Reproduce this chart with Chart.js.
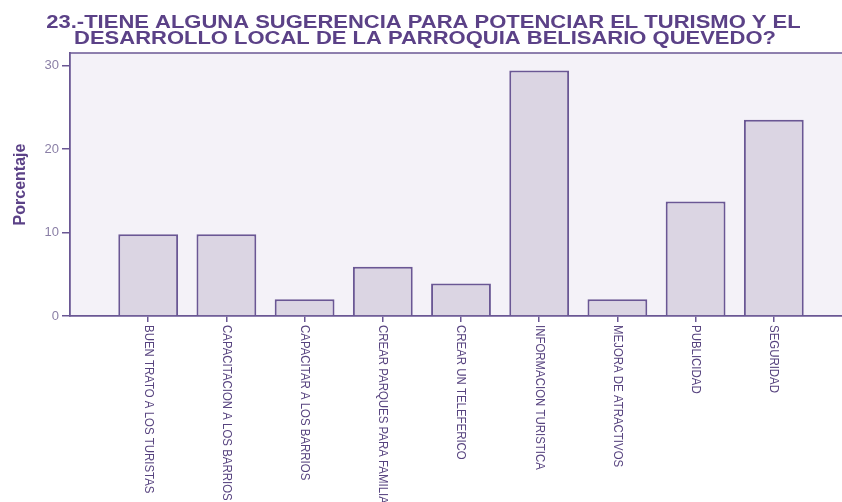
<!DOCTYPE html>
<html><head><meta charset="utf-8">
<script src="https://cdn.jsdelivr.net/npm/chart.js@4"></script>
<style>html,body{margin:0;padding:0;background:#fff;overflow:hidden}#wrap{width:860px;height:502px;position:relative}</style>
</head><body><div id="wrap"><canvas id="c" width="860" height="502"></canvas></div>
<script>
const titleLines = [
  '23.-TIENE ALGUNA SUGERENCIA PARA POTENCIAR EL TURISMO Y EL',
  'DESARROLLO LOCAL DE LA PARROQUIA BELISARIO QUEVEDO?'
];
const categories = [
  'BUEN TRATO A LOS TURISTAS',
  'CAPACITACION A LOS BARRIOS',
  'CAPACITAR A LOS BARRIOS',
  'CREAR PARQUES PARA FAMILIAS',
  'CREAR UN TELEFERICO',
  'INFORMACION TURISTICA',
  'MEJORA DE ATRACTIVOS',
  'PUBLICIDAD',
  'SEGURIDAD'
];
const percentages = [9.8, 9.8, 2.0, 5.9, 3.9, 29.4, 2.0, 13.7, 23.5];
const yTicks = [0, 10, 20, 30];
const yAxisTitle = 'Porcentaje';

const PURPLE = '#6a5794';
const TEXT = '#57437f';

const labels = [''].concat(categories, ['']);
const data = [null].concat(percentages, [null]);

const framePlugin = {
  id: 'frame',
  beforeDraw(chart) {
    const {ctx, chartArea: a} = chart;
    ctx.save();
    ctx.fillStyle = '#f4f2f8';
    ctx.fillRect(a.left, a.top, a.right - a.left, a.bottom - a.top);
    ctx.restore();
  },
  afterDraw(chart) {
    const {ctx, chartArea: a} = chart;
    ctx.save();
    ctx.strokeStyle = PURPLE;
    ctx.lineWidth = 1.5;
    ctx.beginPath();
    ctx.moveTo(a.left, a.top); ctx.lineTo(a.right, a.top);
    ctx.stroke();
    // title
    ctx.fillStyle = '#5b4187';
    ctx.font = 'bold 19px "Liberation Sans", Arial, sans-serif';
    ctx.textAlign = 'center';
    ctx.textBaseline = 'alphabetic';
    const centers = [423.5, 425];
    const bases = [27.5, 44];
    titleLines.forEach((t, i) => {
      ctx.save();
      ctx.translate(centers[i], bases[i]);
      ctx.scale(1.157, 1);
      ctx.fillText(t, 0, 0);
      ctx.restore();
    });
    // x labels
    const xs = chart.scales.x;
    ctx.fillStyle = TEXT;
    ctx.font = '13px "Liberation Sans", Arial, sans-serif';
    ctx.textAlign = 'left';
    ctx.textBaseline = 'middle';
    categories.forEach((c, i) => {
      const x = xs.getPixelForValue(i + 1);
      ctx.save();
      ctx.translate(x, a.bottom + 9);
      ctx.rotate(Math.PI / 2);
      ctx.scale(0.88, 1);
      ctx.fillText(c, 0, 0);
      ctx.restore();
    });
    ctx.restore();
  }
};

new Chart(document.getElementById('c'), {
  type: 'bar',
  data: {
    labels: labels,
    datasets: [{
      data: data,
      backgroundColor: '#dbd5e3',
      borderColor: PURPLE,
      borderWidth: 2,
      barPercentage: 0.765,
      categoryPercentage: 1.0
    }]
  },
  options: {
    responsive: false,
    animation: false,
    devicePixelRatio: 1,
    layout: {padding: {top: 53, right: 8, left: 0, bottom: 0}},
    plugins: {legend: {display: false}, title: {display: false}, tooltip: {enabled: false}},
    scales: {
      x: {
        type: 'category',
        offset: false,
        grid: {
          offset: false,
          drawOnChartArea: false,
          drawTicks: true,
          tickLength: 6,
          lineWidth: 1.5,
          color: (ctx) => (ctx.index === 0 || ctx.index === labels.length - 1) ? 'rgba(0,0,0,0)' : PURPLE
        },
        border: {color: PURPLE, width: 1.8},
        ticks: {display: false, autoSkip: false},
        afterFit(scale) { scale.height = 186; }
      },
      y: {
        min: 0,
        max: 31.5,
        afterBuildTicks(scale) { scale.ticks = yTicks.map(v => ({value: v})); },
        grid: {drawOnChartArea: false, drawTicks: true, tickLength: 8, color: PURPLE, lineWidth: 1.5},
        border: {color: PURPLE, width: 1.8},
        ticks: {
          color: '#8a7fa6',
          padding: 3,
          font: {size: 13, family: '"Liberation Sans", Arial, sans-serif'}
        },
        title: {
          display: true,
          text: yAxisTitle,
          color: '#5b4187',
          font: {size: 16, weight: 'bold', family: '"Liberation Sans", Arial, sans-serif'},
          padding: {top: 11, bottom: 0}
        },
        afterFit(scale) { scale.width = 70; }
      }
    }
  },
  plugins: [framePlugin]
});
</script>
</body></html>
